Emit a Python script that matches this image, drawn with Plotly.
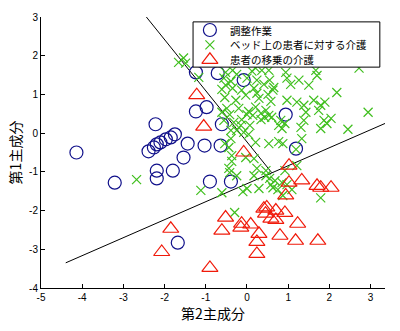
import plotly.graph_objects as go

# Principal component scores (PC2 on x, PC1 on y) for each task class
adjust_pc2 = [-4.14, -3.21, -2.22, -2.39, -2.26, -2.19, -2.10, -1.97, -1.85, -1.75,
              -1.44, -1.54, -1.80, -2.19, -2.19, -1.68, -1.24, -0.71, -0.08, -1.24,
              -0.98, -0.61, -1.03, -0.64, -0.90, -0.39, 0.94, 1.19]
adjust_pc1 = [-0.50, -1.28, 0.23, -0.47, -0.37, -0.29, -0.24, -0.16, -0.11, -0.03,
              -0.27, -0.63, -0.97, -0.97, -1.17, -2.83, 1.57, 1.55, 1.37, 0.56,
              0.67, 0.23, -0.32, -0.32, -1.25, -1.25, 0.48, -0.40]

bed_pc2 = [-1.66, -1.54, -1.49, -1.17, -2.68,
           -0.52, -0.35, -0.25, 0.12, 0.21, 0.36, 0.53, 0.94, 1.67, 1.70, 2.72,
           -0.56, -0.39, -0.52, 0.00, 0.24, 0.41, 0.55, 0.65, 0.97, 1.06, 1.26, 1.50, 2.18,
           -0.61, -0.35, -0.13, 0.17,
           0.24, 0.51, 0.63, 0.29, 0.58, 0.97, 1.21, 1.38, 1.62, 1.79, 1.89, -0.27, -0.03, -0.54,
           -0.49, -0.20, 0.04, 0.34, 0.46, 0.53, 0.34, 0.21, 0.82, 1.38, 1.87, 2.04, 1.43, 1.74,
           2.94, -0.56, -0.32, -0.13, -0.61, -0.42, 0.00, 0.14, 0.43, 0.60, -0.15, 0.07, 0.77,
           0.92, 1.94,
           0.85, 1.31, 1.79, 2.45, -0.39, -0.25, -0.08, 0.04, -0.39, 0.21, 0.53, 0.77, 0.87,
           1.33, -0.44, -0.54, 1.19,
           -0.37, -0.37, -0.03, 0.17, -0.44, 0.24, 0.92, 1.21,
           -0.42, -0.25, 0.17, 0.46, 0.46, 0.55, 0.58, 0.68, 0.85, 0.97, 0.63, 0.75, 0.00,
           0.29, -0.10, -0.61, -1.12, 1.09, 0.87, 1.79, -0.30]
bed_pc1 = [1.83, 1.94, 1.81, 1.44, -1.20,
           1.57, 1.62, 1.52, 1.60, 1.68, 1.62, 1.62, 1.57, 1.62, 1.49, 1.68,
           1.42, 1.34, 1.24, 1.42, 1.37, 1.26, 1.37, 1.18, 1.42, 1.26, 1.37, 1.24, 1.05,
           1.13, 1.16, 1.11, 1.16,
           1.03, 1.00, 1.11, 0.90, 0.82, 0.85, 0.80, 0.72, 0.85, 0.72, 0.80, 0.85, 0.98, 0.92,
           0.64, 0.64, 0.56, 0.51, 0.59, 0.46, 0.35, 0.67, 0.33, 0.33, 0.33, 0.38, 0.54, 0.59,
           0.54, 0.33, 0.28, 0.35, 0.54, 0.48, 0.48, 0.46, 0.41, 0.41, 0.20, 0.20, 0.20,
           0.25, 0.25,
           0.12, 0.15, 0.12, 0.10, 0.07, 0.07, 0.02, -0.03, -0.14, -0.24, -0.27, -0.22, -0.27,
           -0.14, -0.37, -0.27, -0.42,
           -0.58, -0.73, -0.63, -0.66, -0.91, -0.91, -0.97, -0.84,
           -1.02, -1.10, -1.10, -1.10, -0.97, -1.17, -1.33, -1.23, -1.28, -1.33, -1.41, -1.46, -1.43,
           -1.43, -1.51, -1.54, -1.48, -1.46, -1.61, -1.67, -2.05]

transfer_pc2 = [-1.22, -1.05, -0.08, 1.02, 1.02, 1.33, 0.94, 1.70, 1.79, 2.04,
                -0.52, -0.61, -0.90, -0.13, -0.15, 0.09, 0.29, 0.24, 0.24, 0.41,
                0.48, 0.70, 0.58, 0.70, 0.92, 0.45, 1.23, 0.80, 1.18, 1.72,
                -1.85, -2.07]
transfer_pc1 = [0.98, 0.17, -0.50, -0.84, -1.28, -1.22, -1.61, -1.36, -1.41, -1.41,
                -2.18, -2.52, -3.48, -2.34, -2.44, -2.36, -2.60, -2.81, -3.12, -1.95,
                -1.92, -2.00, -2.21, -2.24, -2.06, -2.08, -2.34, -2.65, -2.78, -2.78,
                -2.47, -3.07]

# Decision boundaries between the classes
boundary_a_x = [-2.48, 0.60]
boundary_a_y = [3.05, -1.02]
boundary_b_x = [-4.40, 3.35]
boundary_b_y = [-3.35, 0.25]

x_ticks = [-5, -4, -3, -2, -1, 0, 1, 2, 3]
x_tick_text = ["-5", "-4", "-3", "-2", "-1", "0", "1", "2", "3"]
y_ticks = [-4, -3, -2, -1, 0, 1, 2, 3]
y_tick_text = ["-4", "-3", "-2", "-1", "0", "1", "2", "3"]

names = ["調整作業", "ベッド上の患者に対する介護", "患者の移乗の介護"]

styles = [
    dict(symbol="circle-open", size=13, color="#10108a", line=dict(width=1.2)),
    dict(symbol="x-thin-open", size=9, color="#40bf1f", line=dict(width=1.2)),
    dict(symbol="triangle-up-open", size=14, color="#f01a0a", line=dict(width=1.2)),
]

fig = go.Figure()

for bx, by in [(boundary_a_x, boundary_a_y), (boundary_b_x, boundary_b_y)]:
    fig.add_trace(go.Scatter(x=bx, y=by, mode="lines", showlegend=False,
                             line=dict(color="black", width=1), hoverinfo="skip"))

series = [(adjust_pc2, adjust_pc1), (bed_pc2, bed_pc1), (transfer_pc2, transfer_pc1)]
for (sx, sy), name, st in zip(series, names, styles):
    fig.add_trace(go.Scatter(x=sx, y=sy, mode="markers", name=name,
                             marker=st, showlegend=False))

# Compact key box, drawn on an overlaid unit axis pair
key_left, key_right, key_top, key_bottom = 0.442, 0.985, 0.982, 0.815
key_rows = [0.952, 0.897, 0.842]
fig.add_trace(go.Scatter(
    x=[key_left, key_right, key_right, key_left, key_left],
    y=[key_top, key_top, key_bottom, key_bottom, key_top],
    mode="lines", fill="toself", fillcolor="white",
    line=dict(color="black", width=1), xaxis="x2", yaxis="y2",
    showlegend=False, hoverinfo="skip"))
for row, st in zip(key_rows, styles):
    fig.add_trace(go.Scatter(x=[0.491], y=[row], mode="markers", marker=st,
                             xaxis="x2", yaxis="y2", showlegend=False,
                             hoverinfo="skip"))
for row, name in zip(key_rows, names):
    fig.add_annotation(x=0.543, y=row, xref="paper", yref="paper", text=name,
                       showarrow=False, xanchor="left", yanchor="middle",
                       font=dict(family="Noto Sans CJK JP", size=10.5, color="black"))

tick_font = dict(family="Liberation Sans, Arial", size=10, color="black")
fig.update_layout(
    width=400, height=331,
    margin=dict(l=41, r=15, t=17, b=43, autoexpand=False),
    paper_bgcolor="white", plot_bgcolor="white",
    font=dict(family="Noto Sans CJK JP", color="black"),
    showlegend=False,
    xaxis=dict(range=[-5, 3.35], tickvals=x_ticks, ticktext=x_tick_text,
               ticks="inside", ticklen=4, tickcolor="black", showgrid=False,
               zeroline=False, showline=True, linecolor="black", linewidth=1,
               tickfont=tick_font,
               title=dict(text="第2主成分", font=dict(size=14), standoff=4)),
    yaxis=dict(range=[-4, 3], tickvals=y_ticks, ticktext=y_tick_text,
               ticks="inside", ticklen=4, tickcolor="black", showgrid=False,
               zeroline=False, showline=True, linecolor="black", linewidth=1,
               tickfont=tick_font,
               title=dict(text="第1主成分", font=dict(size=14), standoff=4)),
    xaxis2=dict(overlaying="x", range=[0, 1], visible=False, fixedrange=True),
    yaxis2=dict(overlaying="y", range=[0, 1], visible=False, fixedrange=True),
)

fig.write_html("out.html")
